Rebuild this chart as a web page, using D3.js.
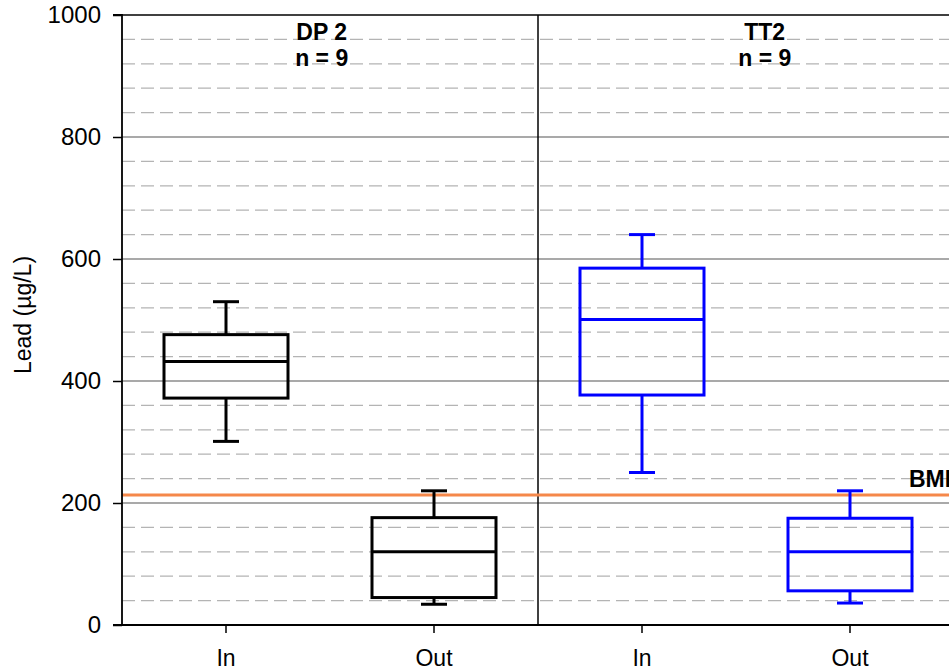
<!DOCTYPE html>
<html>
<head>
<meta charset="utf-8">
<script src="https://cdn.jsdelivr.net/npm/d3@7/dist/d3.min.js"></script>
<style>
  html, body { margin: 0; padding: 0; background: #fff; overflow: hidden; }
  svg { display: block; font-family: Arial, "Liberation Sans", sans-serif; }
</style>
</head>
<body>
<svg id="chart" width="949" height="672"></svg>
<script>
// Lead concentrations at inlet/outlet of two treatment devices
const categories = ["DP2-In", "DP2-Out", "TT2-In", "TT2-Out"];
const categoryLabels = ["In", "Out", "In", "Out"];
const groups = ["DP 2", "TT2"];
const groupCounts = [9, 9];
const groupColors = ["#000000", "#0000FF"];
// five-number summaries: lower whisker, Q1, median, Q3, upper whisker
const whiskerLow  = [301, 34, 250, 36];
const quartile1   = [372, 45, 377, 56];
const medians     = [432, 120, 501, 120];
const quartile3   = [476, 176, 585, 175];
const whiskerHigh = [530, 220, 640, 220];
const yMajorTicks = [0, 200, 400, 600, 800, 1000];
const bmpValue = 213;
const bmpLabel = "BMP";

const svg = d3.select("#chart");
const plotLeft = 122, plotTop = 15, plotBottom = 625, plotRight = 954;
const fontFamily = "Arial, 'Liberation Sans', sans-serif";

const x = d3.scaleBand().domain(categories).range([plotLeft, plotRight]);
const y = d3.scaleLinear().domain([0, 1000]).range([plotBottom, plotTop]);

// minor grid every 40 units, skipping major lines
const minorTicks = d3.range(40, 1000, 40).filter(v => v % 200 !== 0);
svg.append("g").selectAll("line").data(minorTicks).join("line")
  .attr("x1", plotLeft).attr("x2", plotRight)
  .attr("y1", d => y(d)).attr("y2", d => y(d))
  .attr("stroke", "#b4b4b4").attr("stroke-width", 1.3)
  .attr("stroke-dasharray", "13,6");

svg.append("g").selectAll("line").data(yMajorTicks.filter(v => v > 0 && v < 1000)).join("line")
  .attr("x1", plotLeft).attr("x2", plotRight)
  .attr("y1", d => y(d)).attr("y2", d => y(d))
  .attr("stroke", "#8c8c8c").attr("stroke-width", 1.3);

// top frame line and group divider
svg.append("line").attr("x1", plotLeft).attr("x2", plotRight)
  .attr("y1", y(1000)).attr("y2", y(1000))
  .attr("stroke", "#000").attr("stroke-width", 1.5);
svg.append("line")
  .attr("x1", x("TT2-In")).attr("x2", x("TT2-In"))
  .attr("y1", y(1000)).attr("y2", y(0))
  .attr("stroke", "#000").attr("stroke-width", 1.5);

// BMP reference line
svg.append("line").attr("x1", plotLeft).attr("x2", plotRight)
  .attr("y1", y(bmpValue)).attr("y2", y(bmpValue))
  .attr("stroke", "#F5884A").attr("stroke-width", 3);
svg.append("text").attr("x", 909).attr("y", y(bmpValue) - 8)
  .attr("font-size", 23).attr("font-weight", "bold").text(bmpLabel);

// box plots
const boxW = 124, capW = 26;
categories.forEach((c, i) => {
  const cx = x(c) + x.bandwidth() / 2;
  const col = groupColors[Math.floor(i / 2)];
  const g = svg.append("g").attr("stroke", col).attr("stroke-width", 3).attr("fill", "none");
  g.append("line").attr("x1", cx).attr("x2", cx).attr("y1", y(quartile3[i])).attr("y2", y(whiskerHigh[i]));
  g.append("line").attr("x1", cx).attr("x2", cx).attr("y1", y(quartile1[i])).attr("y2", y(whiskerLow[i]));
  g.append("line").attr("x1", cx - capW / 2).attr("x2", cx + capW / 2).attr("y1", y(whiskerHigh[i])).attr("y2", y(whiskerHigh[i]));
  g.append("line").attr("x1", cx - capW / 2).attr("x2", cx + capW / 2).attr("y1", y(whiskerLow[i])).attr("y2", y(whiskerLow[i]));
  g.append("rect").attr("x", cx - boxW / 2).attr("width", boxW)
    .attr("y", y(quartile3[i])).attr("height", y(quartile1[i]) - y(quartile3[i]));
  g.append("line").attr("x1", cx - boxW / 2).attr("x2", cx + boxW / 2).attr("y1", y(medians[i])).attr("y2", y(medians[i]));
});

// group titles
const titleX = [x("DP2-In") + x.bandwidth() * 0.96, x("TT2-In") + x.bandwidth() * 1.09];
groups.forEach((gName, i) => {
  const t = svg.append("text").attr("text-anchor", "middle")
    .attr("font-size", 23).attr("font-weight", "bold");
  t.append("tspan").attr("x", titleX[i]).attr("y", 40).text(gName);
  t.append("tspan").attr("x", titleX[i]).attr("y", 66).text("n = " + groupCounts[i]);
});

// axes
const yAxis = d3.axisLeft(y).tickValues(yMajorTicks).tickFormat(d3.format("d"))
  .tickSize(9).tickPadding(12);
const yg = svg.append("g").attr("transform", `translate(${plotLeft},0)`).call(yAxis);
yg.select(".domain").attr("stroke-width", 1.8).attr("d", `M-9,${y(1000)}H0V${y(0)}H-9`);
yg.selectAll(".tick line").attr("stroke-width", 1.5);
yg.selectAll("text").attr("font-size", 24).attr("fill", "#000").attr("font-family", fontFamily);

const xAxis = d3.axisBottom(x).tickFormat((d, i) => categoryLabels[i]).tickSize(8).tickPadding(17);
const xg = svg.append("g").attr("transform", `translate(0,${plotBottom})`).call(xAxis);
xg.select(".domain").attr("stroke-width", 1.8).attr("d", `M${plotLeft},0H${plotRight}`);
xg.selectAll(".tick line").attr("stroke-width", 1.5);
xg.selectAll("text").attr("font-size", 23).attr("fill", "#000").attr("font-family", fontFamily);

// y-axis title
svg.append("text")
  .attr("transform", `translate(31,315) rotate(-90)`)
  .attr("text-anchor", "middle").attr("font-size", 23)
  .text("Lead (µg/L)");
</script>
</body>
</html>
